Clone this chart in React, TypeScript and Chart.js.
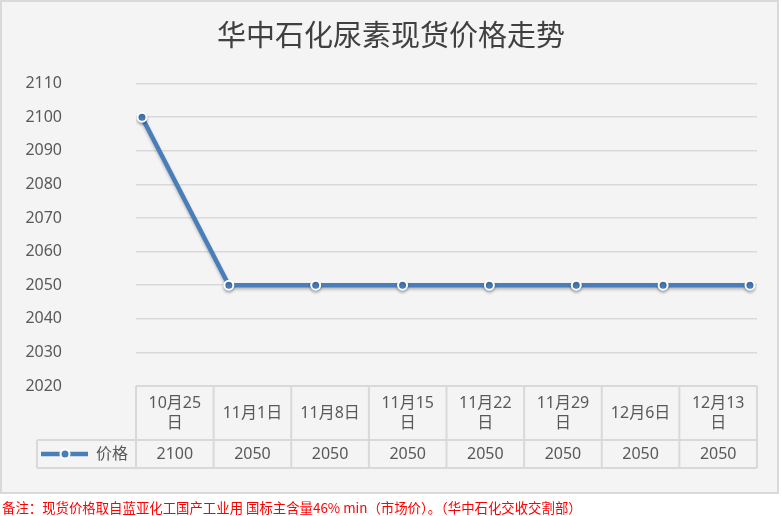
import React, { useEffect, useRef } from 'react';
import { Chart, registerables } from 'chart.js';

Chart.register(...registerables);

const title = '华中石化尿素现货价格走势';
const seriesName = '价格';
const categories = ['10月25日', '11月1日', '11月8日', '11月15日', '11月22日', '11月29日', '12月6日', '12月13日'];
const categoryLines = [['10月25', '日'], ['11月1日'], ['11月8日'], ['11月15', '日'], ['11月22', '日'], ['11月29', '日'], ['12月6日'], ['12月13', '日']];
const prices = [2100, 2050, 2050, 2050, 2050, 2050, 2050, 2050];
const yMin = 2020;
const yMax = 2110;
const yStep = 10;
const footnote = '备注：现货价格取自蓝亚化工国产工业用 国标主含量46% min（市场价）。（华中石化交收交割部）';

const LINE = '#4a7ebb';
const TEXT = '#595959';
const GRID = '#d9d9d9';
const FONT = '"Noto Sans", "Noto Sans CJK SC", sans-serif';
const CJK = '"Noto Sans CJK SC", "Noto Sans", sans-serif';

const decorPlugin = {
  id: 'decor',
  beforeDraw(chart: any) {
    const ctx = chart.ctx;
    ctx.save();
    ctx.fillStyle = '#ffffff';
    ctx.fillRect(0, 0, chart.width, chart.height);
    ctx.fillStyle = '#f4f4f4';
    ctx.fillRect(0, 0, 778, 493);
    ctx.strokeStyle = GRID;
    ctx.lineWidth = 2;
    ctx.strokeRect(1, 1, 777, 492);
    ctx.fillStyle = '#404040';
    ctx.font = `29px ${CJK}`;
    ctx.textAlign = 'center';
    ctx.textBaseline = 'middle';
    ctx.fillText(title, 391, 35);
    ctx.fillStyle = '#ff0000';
    ctx.font = `13.4px ${CJK}`;
    ctx.textAlign = 'left';
    ctx.fillText(footnote, 2, 508);
    ctx.restore();
  },
  beforeDatasetsDraw(chart: any) {
    const ctx = chart.ctx;
    ctx.save();
    ctx.shadowColor = 'rgba(0,0,0,0.25)';
    ctx.shadowBlur = 3;
    ctx.shadowOffsetY = 2;
  },
  afterDatasetsDraw(chart: any) {
    chart.ctx.restore();
  },
  afterDraw(chart: any) {
    const ctx = chart.ctx;
    const area = chart.chartArea;
    const left = area.left;
    const right = area.right;
    const top = area.bottom;
    const mid = top + 54;
    const bottom = mid + 28;
    const legendLeft = 37;
    const n = categories.length;
    const colW = (right - left) / n;
    ctx.save();
    ctx.strokeStyle = GRID;
    ctx.lineWidth = 2;
    ctx.beginPath();
    ctx.moveTo(left, top);
    ctx.lineTo(right, top);
    ctx.moveTo(legendLeft, mid);
    ctx.lineTo(right, mid);
    ctx.moveTo(legendLeft, bottom);
    ctx.lineTo(right, bottom);
    ctx.moveTo(legendLeft, mid);
    ctx.lineTo(legendLeft, bottom);
    for (let k = 0; k <= n; k++) {
      const x = left + k * colW;
      ctx.moveTo(x, top);
      ctx.lineTo(x, bottom);
    }
    ctx.stroke();

    ctx.fillStyle = TEXT;
    ctx.font = `16px ${FONT}`;
    ctx.textAlign = 'center';
    ctx.textBaseline = 'middle';
    const lh = 20;
    const headMid = (top + mid) / 2;
    const valMid = (mid + bottom) / 2;
    for (let i = 0; i < n; i++) {
      const cx = left + (i + 0.5) * colW;
      const lines = categoryLines[i];
      const y0 = headMid - ((lines.length - 1) * lh) / 2;
      lines.forEach((s, j) => ctx.fillText(s, cx, y0 + j * lh));
      ctx.fillText(String(prices[i]), cx, valMid);
    }
    // legend key
    ctx.strokeStyle = LINE;
    ctx.lineWidth = 4.5;
    ctx.beginPath();
    ctx.moveTo(41, valMid);
    ctx.lineTo(88, valMid);
    ctx.stroke();
    ctx.beginPath();
    ctx.arc(65, valMid, 4.5, 0, Math.PI * 2);
    ctx.fillStyle = LINE;
    ctx.fill();
    ctx.strokeStyle = '#ffffff';
    ctx.lineWidth = 2;
    ctx.stroke();
    ctx.fillStyle = TEXT;
    ctx.textAlign = 'left';
    ctx.fillText(seriesName, 96, valMid);
    ctx.restore();
  },
};

export default function App() {
  const ref = useRef<HTMLCanvasElement | null>(null);
  useEffect(() => {
    document.body.style.margin = '0';
    const canvas = ref.current;
    if (!canvas) return;
    const chart = new Chart(canvas, {
      type: 'line',
      data: {
        datasets: [
          {
            label: seriesName,
            data: prices.map((v, i) => ({ x: i, y: v })),
            borderColor: LINE,
            backgroundColor: LINE,
            borderWidth: 4.5,
            pointRadius: 4.5,
            pointBorderWidth: 2,
            pointBorderColor: '#ffffff',
            pointBackgroundColor: LINE,
            tension: 0,
          },
        ],
      },
      options: {
        responsive: false,
        animation: false,
        devicePixelRatio: 1,
        layout: { padding: { top: 82, bottom: 130, left: 0, right: 25 } },
        plugins: { legend: { display: false }, tooltip: { enabled: false }, title: { display: false } },
        scales: {
          x: { type: 'linear', min: -0.069, max: 7.081, display: false },
          y: {
            min: yMin,
            max: yMax,
            ticks: {
              stepSize: yStep,
              color: TEXT,
              font: { size: 16, family: FONT },
              padding: 74,
              callback: (v: any) => String(v),
            },
            grid: { color: GRID, lineWidth: 1.5, drawTicks: false },
            border: { display: false },
            afterFit(scale: any) {
              scale.width = 136;
            },
          },
        },
      },
      plugins: [decorPlugin],
    } as any);
    return () => chart.destroy();
  }, []);
  return (
    <div style={{ position: 'absolute', left: 0, top: 0, width: 782, height: 516 }}>
      <canvas ref={ref} width={782} height={516} aria-label={categories.join(',')} />
    </div>
  );
}
